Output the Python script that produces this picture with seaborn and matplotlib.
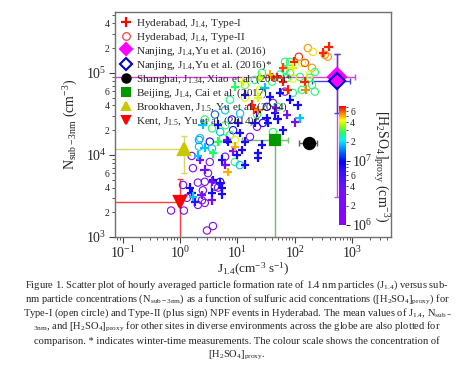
import matplotlib
matplotlib.use('Agg')
import matplotlib.pyplot as plt
import matplotlib.ticker as mticker
from matplotlib.colors import LogNorm, LinearSegmentedColormap
from matplotlib.cm import ScalarMappable
from matplotlib.lines import Line2D
import numpy as np
import pandas as pd
import seaborn as sns

# ── Hyderabad Type-I (open circles): J1.4 (cm-3 s-1), N_sub-3nm (cm-3), [H2SO4]proxy (cm-3)
circ_j = [0.70, 1.17, 2.95, 3.75, 1.13, 1.6, 3.3, 1.68, 2.05, 2.5, 3.07, 1.32, 2.05, 2.41, 4.6,
          2.14, 2.14, 2.7, 5.0, 4.05, 2.7, 3.6, 3.3, 3.6, 5.6, 8.4, 9.0, 11, 6.1, 73,
          40, 41.5, 50, 32.5, 24.6, 13.5, 21.9, 11.1, 8.0, 6.1, 5.0, 2.7, 7.4, 9.0, 21.9,
          16.5, 27.6, 41.5, 2.23, 168, 205, 117, 82, 67, 132, 198, 222, 67, 82, 55,
          122, 182, 92, 26.7, 132, 92, 67, 222, 331, 373, 182, 198, 149, 13.5, 20,
          6.1, 4.06, 7.4]
circ_n = [2.1e3, 2.1e3, 1.2e3, 1.36e3, 4.3e3, 9.7e3, 8.2e3, 6.9e3, 4.6e3, 3.7e3, 6.0e3, 3.0e3, 2.46e3, 2.8e3, 4.0e3,
          1.26e4, 1.52e4, 4.7e3, 4.7e3, 4.1e3, 2.6e3, 2.1e4, 1.45e4, 1.2e4, 1.6e4, 2.0e4, 8.2e3, 7.5e3, 9.5e3, 8.7e4,
          7.8e4, 4.3e4, 3.85e4, 3.85e4, 6.2e4, 5.0e4, 3.1e4, 3.2e4, 2.7e4, 2.3e4, 1.9e4, 2.7e4, 1.75e4, 1.52e4, 2.2e4,
          1.66e4, 2.45e4, 1.9e4, 1.6e4, 2.0e5, 1.8e5, 1.57e5, 1.36e5, 1.36e5, 1.32e5, 1.15e5, 1.02e5, 1.09e5, 1.0e5, 9.5e4,
          8.9e4, 8.7e4, 8.5e4, 1.0e5, 6.2e4, 5.7e4, 5.9e4, 5.9e4, 1.66e5, 1.57e5, 9.5e4, 7.1e4, 1.32e5, 7.1e4, 8.2e4,
          3.5e4, 3.1e4, 4.7e4]
circ_h = [1.3e6, 1.5e6, 1.6e6, 1.8e6, 2.0e6, 2.2e6, 2.0e6, 2.3e6, 2.5e6, 2.0e6, 2.8e6, 1.8e6, 2.2e6, 2.0e6, 3.0e6,
          1.8e7, 1.6e7, 2.2e6, 8e6, 2.5e6, 2.0e6, 2.8e7, 8e6, 1.8e7, 2.8e7, 8e6, 2.8e7, 1.8e7, 2.5e6, 2.8e7,
          2.8e7, 3e6, 2.8e7, 8e6, 4e7, 4e7, 2.8e7, 1.8e7, 8e6, 2.8e7, 1.8e7, 2.7e7, 2.8e7, 4e7, 2.5e6,
          2.5e6, 8e6, 2.8e7, 1.8e7, 5.3e7, 4.6e7, 6.7e7, 2.8e7, 2.6e7, 4e7, 5.3e7, 2.7e7, 2.6e7, 2.8e7, 2.4e7,
          2.8e7, 2.7e7, 4e7, 2.8e7, 2.7e7, 2.6e7, 3e6, 2.7e7, 5.5e7, 5.3e7, 4e7, 2.7e7, 6.2e7, 3.2e7, 2.6e7,
          1.8e7, 1.4e7, 2.6e7]

# ── Hyderabad Type-II (plus signs)
plus_j = [390, 307, 96, 40, 49, 62, 75, 149, 155, 36.7, 62, 92, 24.6, 12.5, 13.5,
          36.7, 55, 21.9, 32.5, 45, 50, 11.1, 13.5, 6.6, 4.6, 17.9, 19.5, 23, 2.5, 4.6,
          10.2, 20, 34, 62, 26.7, 22.7, 22.7, 13.5, 6.8, 5.4, 3.75, 5.4, 3.6, 2.4, 2.7,
          8.4, 6.8, 9.1, 12, 9.8, 100, 73, 122, 1.5, 1.6, 1.82, 3.6, 5.4, 3.6, 5.0,
          2.23, 6.1, 3.75, 2.7, 1.68, 9.1, 2.05, 112, 82, 47, 22.7, 30]
plus_n = [2.07e5, 1.75e5, 1.36e5, 8.9e4, 8.9e4, 7.8e4, 6.2e4, 7.8e4, 6.2e4, 9.5e4, 1.15e5, 1.15e5, 8.7e4, 7.8e4, 5.4e4,
          5.1e4, 5.7e4, 3.3e4, 2.8e4, 3.2e4, 2.7e4, 1.85e4, 1.45e4, 1.52e4, 1.45e4, 4.07e4, 3.6e4, 3.5e4, 2.33e4, 2.33e4,
          2.45e4, 2.45e4, 2.45e4, 2.0e4, 1.33e4, 1.05e4, 9.2e3, 7.6e3, 1.45e4, 8.7e3, 4.95e3, 4.0e3, 2.8e3, 3.25e3, 6.6e3,
          1.1e4, 6.2e3, 1.26e4, 1.15e4, 1.0e4, 2.5e4, 3.1e4, 2.8e4, 4.0e3, 3.45e3, 2.7e3, 3.45e3, 3.3e3, 4.7e3, 4.6e3,
          8.7e3, 7.6e3, 1.05e4, 1.22e4, 3.1e3, 6.8e4, 9.8e3, 4.0e4, 4.7e4, 3.7e4, 5.0e4, 6.6e4]
plus_h = [6.7e7, 6.7e7, 6.7e7, 6.7e7, 6.7e7, 6.7e7, 6.7e7, 6.7e7, 5.5e7, 5e7, 6.2e7, 4e7, 4e7, 4e7, 8e6,
          8e6, 8e6, 8e6, 8e6, 8e6, 8e6, 8e6, 8e6, 3e6, 2.8e7, 6.7e7, 6.7e7, 5.5e7, 1.8e7, 8e6,
          8e6, 8e6, 8e6, 8e6, 8e6, 8e6, 8e6, 8e6, 8e6, 8e6, 8e6, 8e6, 3e6, 3e6, 3e6,
          3e6, 5e7, 5e7, 8e6, 8e6, 3e6, 3e6, 1.8e7, 8e6, 8e6, 7e6, 8e6, 8e6, 3e6, 8e6,
          3e6, 3e6, 2.8e7, 1.8e7, 1.8e7, 2.8e7, 1.8e7, 8e6, 9e6, 3e6, 4e7, 1.8e7]

# ── Other sites: mean values and error ranges
site_labels = [r'Nanjing, J$_{1.4}$,Yu et al. (2016)', r'Nanjing, J$_{1.4}$,Yu et al. (2016)*',
               r'Shanghai, J$_{1.34}$, Xiao et al. (2015)*', r'Beijing, J$_{1.4}$, Cai et al. (2017)',
               r'Brookhaven, J$_{1.5}$, Yu et al. (2014)', r'Kent, J$_{1.5}$, Yu et al. (2014)*']
site_j = [540, 540, 175, 45, 1.17, 1.0]
site_n = [9.0e4, 8.0e4, 1.4e4, 1.5e4, 1.18e4, 2.7e3]
site_j_lo = [0.01, 200, 117, 12, 0.01, 0.01]
site_j_hi = [1100, 900, 240, 75, 1.17, 1.0]
site_n_lo = [3.1e3, 3.2e4, 1.25e4, 1.0, 6.0e3, 1.0]
site_n_hi = [1.7e5, 1.7e5, 1.55e4, 1.5e4, 1.7e4, 5.1e3]
site_marker = ['D', 'D', 'o', 's', '^', 'v']
site_face = ['#ff00ff', 'none', 'black', '#009900', '#c8c800', '#ff0000']
site_edge = ['#ff00ff', '#0000cc', 'black', '#009900', '#c8c800', '#ff0000']
site_ecolor = ['#e040e0', '#4040e0', '#606060', '#70c070', '#d8d860', '#ff4040']
site_ms = [9, 8, 8, 7.5, 9, 9]

caption = [
    r'Figure 1. Scatter plot of hourly averaged particle formation rate of 1.4 nm particles (J$_{1.4}$) versus sub-',
    r'nm particle concentrations (N$_{\mathrm{sub-3nm}}$) as a function of sulfuric acid concentrations ([H$_2$SO$_4$]$_{\mathrm{proxy}}$) for',
    r'Type-I (open circle) and Type-II (plus sign) NPF events in Hyderabad. The mean values of J$_{1.4}$, N$_{\mathrm{sub-}}$',
    r'$_{\mathrm{3nm}}$, and [H$_2$SO$_4$]$_{\mathrm{proxy}}$ for other sites in diverse environments across the globe are also plotted for',
    r'comparison. * indicates winter-time measurements. The colour scale shows the concentration of',
    r'[H$_2$SO$_4$]$_{\mathrm{proxy}}$.',
]

sns.set_style('ticks')
plt.rcParams['font.family'] = ['Liberation Serif', 'DejaVu Serif']
plt.rcParams['mathtext.fontset'] = 'custom'
plt.rcParams['mathtext.rm'] = 'Liberation Serif'
plt.rcParams['mathtext.it'] = 'Liberation Serif:italic'
plt.rcParams['mathtext.bf'] = 'Liberation Serif:bold'

cmap = LinearSegmentedColormap.from_list('h2so4', [
    (0.0, '#9000ff'), (0.3, '#7010ff'), (0.45, '#3010ff'), (0.53, '#0000ff'),
    (0.62, '#0070ff'), (0.71, '#00f0ff'), (0.78, '#20ff60'), (0.84, '#a0ff00'),
    (0.88, '#ffff00'), (0.94, '#ff8000'), (1.0, '#ff0000')])
norm = LogNorm(vmin=1e6, vmax=7.2e7)

circ = pd.DataFrame({'J': circ_j, 'N': circ_n, 'H': circ_h})
plus = pd.DataFrame({'J': plus_j, 'N': plus_n, 'H': plus_h})

fig = plt.figure(figsize=(4.74, 3.81), dpi=100)
ax = fig.add_axes([115 / 474, 1 - 237 / 381, 276 / 474, 225 / 381])
ax.set_xscale('log')
ax.set_yscale('log')

# error bars / guide lines for other sites
for i in range(len(site_j)):
    ax.errorbar([site_j[i]], [site_n[i]],
                xerr=[[site_j[i] - site_j_lo[i]], [site_j_hi[i] - site_j[i]]],
                yerr=[[site_n[i] - site_n_lo[i]], [site_n_hi[i] - site_n[i]]],
                fmt='none', ecolor=site_ecolor[i], elinewidth=1.0, capsize=2.5,
                capthick=1.0, zorder=2)

# Hyderabad open circles
ax.scatter(circ['J'], circ['N'], s=28, facecolors='none',
           edgecolors=cmap(norm(circ['H'])), linewidths=0.8, zorder=3)
# Hyderabad plus signs
sns.scatterplot(data=plus, x='J', y='N', hue='H', hue_norm=norm, palette=cmap,
                marker='+', s=40, linewidth=1.6, legend=False, ax=ax, zorder=4)

for i in range(len(site_j)):
    ax.plot([site_j[i]], [site_n[i]], ls='none', marker=site_marker[i], ms=site_ms[i],
            mfc=site_face[i], mec=site_edge[i], mew=1.6, zorder=5)

ax.set_xlim(0.074, 4700)
ax.set_ylim(1e3, 5.5e5)

def minor_label(v, pos):
    m = v / 10 ** np.floor(np.log10(v) + 1e-9)
    r = int(round(m))
    return str(r) if r in (2, 4, 6) and abs(m - r) < 0.01 else ''

ax.xaxis.set_major_locator(mticker.LogLocator(base=10, numticks=10))
ax.xaxis.set_minor_locator(mticker.LogLocator(base=10, subs=np.arange(2, 10), numticks=20))
ax.xaxis.set_minor_formatter(mticker.NullFormatter())
ax.xaxis.set_major_formatter(mticker.LogFormatterMathtext())
ax.yaxis.set_major_locator(mticker.LogLocator(base=10, numticks=10))
ax.yaxis.set_minor_locator(mticker.LogLocator(base=10, subs=np.arange(2, 10), numticks=20))
ax.yaxis.set_major_formatter(mticker.LogFormatterMathtext())
ax.yaxis.set_minor_formatter(mticker.FuncFormatter(minor_label))
ax.tick_params(which='major', direction='out', length=4, width=0.8, labelsize=10, pad=2,
               color='#404040')
ax.tick_params(which='minor', direction='out', length=2, width=0.6, labelsize=7, pad=2,
               color='#404040')
for sp in ax.spines.values():
    sp.set_color('#707070')
    sp.set_linewidth(1.0)

ax.set_xlabel(r'J$_{1.4}$(cm$^{-3}$ s$^{-1}$)', fontsize=9.5, labelpad=0)
ax.set_ylabel(r'N$_{\mathrm{sub-3nm}}$ (cm$^{-3}$)', fontsize=10, labelpad=4)

handles = [
    Line2D([], [], ls='none', marker='+', ms=6.5, mew=1.6, color='#ff0000'),
    Line2D([], [], ls='none', marker='o', ms=5.5, mew=0.9, mfc='none', mec='#ff4040'),
]
labels = [r'Hyderabad, J$_{1.4}$, Type-I', r'Hyderabad, J$_{1.4}$, Type-II']
for i in range(len(site_j)):
    handles.append(Line2D([], [], ls='none', marker=site_marker[i], ms=6, mew=1.5,
                          mfc=site_face[i], mec=site_edge[i]))
    labels.append(site_labels[i])
ax.legend(handles, labels, loc='upper left', frameon=False, fontsize=8,
          handlelength=1.0, handletextpad=0.4, labelspacing=0.05,
          borderaxespad=0.25, borderpad=0.2)

# colour bar inside the plot
cax = fig.add_axes([339 / 474, 1 - 225 / 381, 7 / 474, 119 / 381])
cb = fig.colorbar(ScalarMappable(norm=norm, cmap=cmap), cax=cax)
cb.outline.set_visible(False)
cax.yaxis.set_major_formatter(mticker.LogFormatterMathtext())
cax.yaxis.set_minor_locator(mticker.LogLocator(base=10, subs=np.arange(2, 10), numticks=20))
cax.yaxis.set_minor_formatter(mticker.FuncFormatter(minor_label))
cax.tick_params(which='major', length=3, width=0.7, labelsize=10, pad=1.5)
cax.tick_params(which='minor', length=1.5, width=0.6, labelsize=7, pad=1.5)
fig.text(381 / 474, 1 - 166 / 381, r'[H$_2$SO$_4$]$_{\mathrm{proxy}}$ (cm$^{-3}$)',
         rotation=270, ha='center', va='center', fontsize=10)

for k, line in enumerate(caption):
    fig.text(0.5, 1 - (285 + 14 * k) / 381, line, ha='center', va='center', fontsize=7.6)

fig.savefig('out.png', dpi=100)
